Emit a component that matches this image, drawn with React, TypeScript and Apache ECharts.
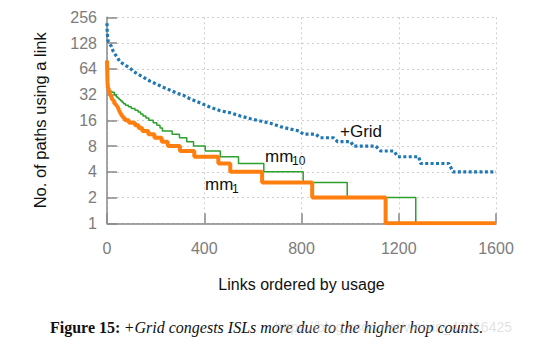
import React, { useEffect, useRef } from "react";
import * as echarts from "echarts";

// +Grid (blue, dotted)
const gridX = [0, 1, 5, 19, 26, 40, 54, 67, 95, 108, 129, 150, 177, 206, 231, 260, 289, 313, 342, 384, 425, 466, 507, 548, 590, 631, 672, 713, 755, 790, 808, 858, 878, 932, 948, 1002, 1014, 1105, 1126, 1180, 1196, 1282, 1290, 1406, 1423, 1600];
const gridY = [218, 166, 133, 116, 101, 89, 77, 73, 65, 60, 55, 51, 46, 42, 39, 36, 33, 31.5, 28.5, 25.5, 22.7, 20.7, 19.6, 18, 16.7, 15.7, 14.8, 13.5, 12.6, 12, 11, 11, 10, 10, 9, 9, 8, 8, 7, 7, 6, 6, 5, 5, 4, 4];

// mm1 (orange, thick step)
const mm1X = [0, 1, 2, 4, 7, 12, 16, 20, 25, 30, 36, 41, 45, 48, 51, 55, 60, 66, 74, 90, 115, 130, 145, 170, 195, 225, 250, 300, 359, 458, 507, 638, 844, 1146, 1600];
const mm1Y = [80, 60, 45, 38, 35, 32, 30, 28, 27, 25, 24, 23, 22, 21, 20, 19, 18, 17, 16, 15, 14, 13, 12, 11, 10, 9, 8, 7, 6, 5, 4, 3, 2, 1, 1];

// mm10 (green, thin step)
const mm10X = [0, 1, 2, 3, 5, 8, 20, 30, 38, 45, 50, 56, 62, 68, 76, 88, 100, 115, 128, 138, 148, 160, 172, 190, 205, 218, 228, 268, 298, 328, 356, 404, 466, 541, 645, 807, 988, 1270, 1600];
const mm10Y = [68, 55, 45, 40, 37, 35, 34, 32, 30, 29, 28, 27, 26, 25, 24, 23, 22, 21, 20, 19, 18, 17, 16, 15, 14, 13, 12, 11, 10, 9, 8, 7, 6, 5, 4, 3, 2, 1, 1];

const xTicks = [0, 400, 800, 1200, 1600];
const yTicks = [1, 2, 4, 8, 16, 32, 64, 128, 256];

const zip = (xs: number[], ys: number[]) => xs.map((x, i) => [x, ys[i]]);

export default function App() {
  const ref = useRef<HTMLDivElement>(null);
  useEffect(() => {
    if (!ref.current) return;
    const chart = echarts.init(ref.current, null, { renderer: "svg" });
    const sans = "Liberation Sans, Arial, sans-serif";
    const serif = "Liberation Serif, Times New Roman, serif";
    const gray = "#7c7c7c";
    chart.setOption({
      animation: false,
      backgroundColor: "#ffffff",
      grid: { left: 107, right: 45, top: 17.3, bottom: 127.7 },
      xAxis: {
        type: "value",
        min: xTicks[0],
        max: xTicks[xTicks.length - 1],
        interval: 400,
        name: "Links ordered by usage",
        nameLocation: "middle",
        nameGap: 53,
        nameTextStyle: { fontFamily: sans, fontSize: 16, color: "#111" },
        axisLine: { onZero: false, lineStyle: { color: "#888", width: 1.5 } },
        axisTick: { inside: true, length: 10, lineStyle: { color: "#888", width: 1.5 } },
        axisLabel: { margin: 17, fontFamily: sans, fontSize: 16, color: gray, formatter: (v: number) => String(v) },
        splitLine: { show: true, lineStyle: { color: "#cfcfcf", type: [2, 3], width: 1 } },
      },
      yAxis: {
        type: "log",
        logBase: 2,
        min: yTicks[0],
        max: yTicks[yTicks.length - 1],
        interval: 1,
        name: "No. of paths using a link",
        nameLocation: "middle",
        nameGap: 59,
        nameTextStyle: { fontFamily: sans, fontSize: 16.5, color: "#111" },
        axisLine: { show: true, lineStyle: { color: "#888", width: 1.5 } },
        axisTick: { show: true, inside: true, length: 10, lineStyle: { color: "#888", width: 1.5 } },
        axisLabel: { margin: 10, fontFamily: sans, fontSize: 16, color: gray, formatter: (v: number) => String(Math.round(v)) },
        splitLine: { show: true, lineStyle: { color: "#cfcfcf", type: [2, 3], width: 1 } },
        minorTick: { show: false },
      },
      series: [
        {
          name: "mm10",
          type: "line",
          step: "end",
          showSymbol: false,
          data: zip(mm10X, mm10Y),
          lineStyle: { color: "#2ca02c", width: 1.5 },
        },
        {
          name: "mm1",
          type: "line",
          step: "end",
          showSymbol: false,
          data: zip(mm1X, mm1Y),
          lineStyle: { color: "#ff7f0e", width: 4 },
        },
        {
          name: "+Grid",
          type: "line",
          showSymbol: false,
          data: zip(gridX, gridY),
          lineStyle: { color: "#1f77b4", width: 3.2, type: [3, 2.4] },
        },
      ],
      graphic: [
        { type: "text", x: 340, y: 131, style: { text: "+Grid", font: `17px ${sans}`, fill: "#111", verticalAlign: "middle" } },
        { type: "text", x: 265, y: 156, style: { text: "mm", font: `17px ${sans}`, fill: "#111", verticalAlign: "middle" } },
        { type: "text", x: 292, y: 161, style: { text: "10", font: `12px ${sans}`, fill: "#111", verticalAlign: "middle" } },
        { type: "text", x: 205, y: 184, style: { text: "mm", font: `17px ${sans}`, fill: "#111", verticalAlign: "middle" } },
        { type: "text", x: 232, y: 189, style: { text: "1", font: `12px ${sans}`, fill: "#111", verticalAlign: "middle" } },
        {
          type: "text",
          x: 50,
          y: 327,
          style: {
            text: "{b|Figure 15:} {i|+Grid congests ISLs more due to the higher hop counts.}",
            verticalAlign: "middle",
            rich: {
              b: { fontFamily: serif, fontSize: 16, fontWeight: "bold", fill: "#111" },
              i: { fontFamily: serif, fontSize: 16, fontStyle: "italic", fill: "#111" },
            },
          },
        },
        {
          type: "text",
          x: 512,
          y: 327,
          style: { text: "https://blog.csdn.net/weixin_42116425", font: `14px ${sans}`, fill: "rgba(190,190,190,0.45)", align: "right", verticalAlign: "middle" },
        },
      ],
    });
    return () => chart.dispose();
  }, []);
  return <div ref={ref} style={{ position: "fixed", left: 0, top: 0, width: 541, height: 351 }} />;
}
